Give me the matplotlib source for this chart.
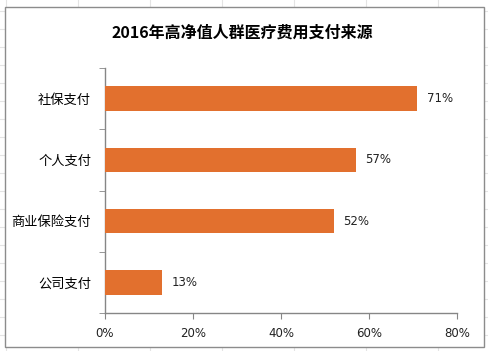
import matplotlib
matplotlib.use("Agg")
import matplotlib.pyplot as plt
from matplotlib.patches import Rectangle
from matplotlib.lines import Line2D
import numpy as np

plt.rcParams['font.family'] = ['Noto Sans CJK SC', 'DejaVu Sans']

categories = ["社保支付", "个人支付", "商业保险支付", "公司支付"]
values = [71, 57, 52, 13]
xticks = [0, 20, 40, 60, 80]
xtick_labels = ["0%", "20%", "40%", "60%", "80%"]
title = "2016年高净值人群医疗费用支付来源"

W, H = 488, 351
fig = plt.figure(figsize=(W / 100, H / 100), dpi=100)
fig.patch.set_facecolor("white")

def fx(px):
    return px / W

def fy(py):
    return 1 - py / H

# faint spreadsheet grid behind the chart area
grid_c = "#e4e4e4"
for gx in range(6, W, 72):
    fig.add_artist(Line2D([fx(gx), fx(gx)], [0, 1], color=grid_c, lw=0.8, zorder=0))
for gy in range(11, H, 18):
    fig.add_artist(Line2D([0, 1], [fy(gy), fy(gy)], color=grid_c, lw=0.8, zorder=0))

# chart area frame
fig.add_artist(Rectangle((fx(5), fy(347)), fx(484) - fx(5), fy(7) - fy(347),
                         facecolor="white", edgecolor="#8c8c8c", lw=1.0, zorder=1))

ax = fig.add_axes([fx(105), fy(313), fx(457) - fx(105), fy(68) - fy(313)], zorder=2)
ax.patch.set_alpha(0)

ypos = np.arange(len(categories))
ax.barh(ypos, values, height=0.4, color="#E2702E", zorder=3)
for yp, v in zip(ypos, values):
    ax.annotate(f"{v}%", xy=(v, yp), xytext=(7, 0), textcoords="offset points",
                va="center", ha="left", fontsize=8.5, color="#222222",
                family=['DejaVu Sans'])

ax.set_xlim(0, 80)
ax.set_ylim(len(categories) - 0.5, -0.5)
ax.set_xticks(xticks)
ax.set_xticklabels(xtick_labels, fontsize=8.5, color="#222222", family=['DejaVu Sans'])
ax.set_yticks(ypos)
ax.set_yticklabels(categories, fontsize=9.5, color="black")
ax.set_yticks(np.arange(len(categories) + 1) - 0.5, minor=True)
ax.tick_params(axis="y", which="major", length=0, pad=10)
ax.tick_params(axis="y", which="minor", length=4, color="#868686", direction="out")
ax.tick_params(axis="x", length=4, color="#868686", direction="out", pad=6)

for s in ("top", "right"):
    ax.spines[s].set_visible(False)
for s in ("left", "bottom"):
    ax.spines[s].set_color("#868686")
    ax.spines[s].set_linewidth(1.0)

fig.text(fx(242), fy(33), title, ha="center", va="center", fontsize=11.5,
         fontweight="bold", color="black", zorder=3)

fig.savefig("out.png", dpi=100)
